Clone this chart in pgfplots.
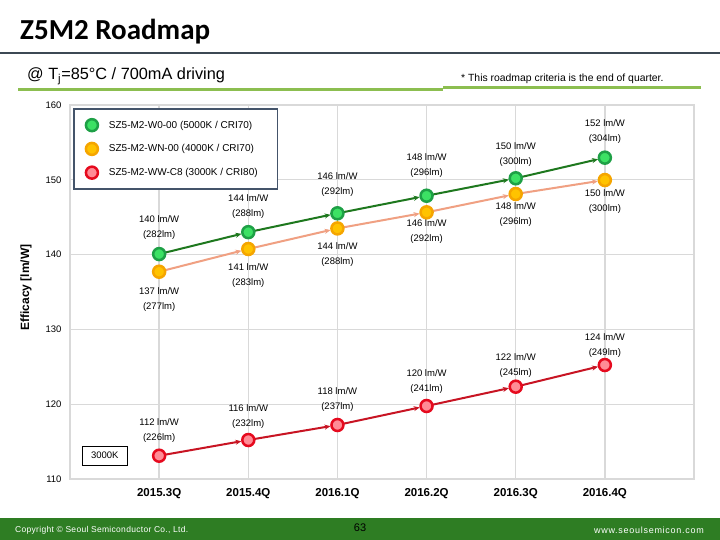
\documentclass[border=0pt]{standalone}
\usepackage{fontspec}
\setmainfont{Liberation Sans}
\newfontfamily\titlefont{Carlito}
\newfontfamily\spacedfont[LetterSpace=8]{Liberation Sans}
\newfontfamily\lspacedfont[LetterSpace=3.5]{Liberation Sans}
\usepackage{pgfplots}
\pgfplotsset{compat=1.18}
\usetikzlibrary{arrows.meta}
\definecolor{gEdge}{RGB}{30,160,70}
\definecolor{gFill}{RGB}{60,225,100}
\definecolor{oEdge}{RGB}{245,165,0}
\definecolor{oFill}{RGB}{255,195,0}
\definecolor{rEdge}{RGB}{230,10,30}
\definecolor{rFill}{RGB}{255,140,150}
\definecolor{gLine}{RGB}{30,120,30}
\definecolor{oLine}{RGB}{240,160,130}
\definecolor{rLine}{RGB}{200,20,35}
\definecolor{gridc}{RGB}{217,217,217}
\definecolor{legc}{RGB}{68,84,106}
\definecolor{footg}{RGB}{46,125,35}
\definecolor{hdrline}{RGB}{60,72,84}
\definecolor{subline}{RGB}{140,190,80}
\tikzset{lbl/.style={align=center, font=\fontsize{9.5}{15}\selectfont, inner sep=0}}
\begin{document}
\begin{tikzpicture}[x=1pt,y=1pt]
\useasboundingbox (0,0) rectangle (720,540);
\fill[white] (0,0) rectangle (720,540);
% header
\node[anchor=base west, inner sep=0] at (20,500) {\titlefont\bfseries\fontsize{29}{32}\selectfont Z5M2 Roadmap};
\draw[hdrline, line width=1.5pt] (0,487) -- (720,487);
\node[anchor=base west, inner sep=0] at (27,460) {\fontsize{16.3}{18}\selectfont @ T\textsubscript{j}=85°C / 700mA driving};
\node[anchor=base west, inner sep=0] at (461,458) {\fontsize{10.4}{12}\selectfont * This roadmap criteria is the end of quarter.};
\draw[subline, line width=3pt] (18,450.7) -- (443,450.7);
\draw[subline, line width=3pt] (443,452) -- (701,452);
% footer
\fill[footg] (0,0) rectangle (720,22);
\node[anchor=west, inner sep=0, white] at (15,10) {\lspacedfont\fontsize{8.5}{10}\selectfont Copyright © Seoul Semiconductor Co., Ltd.};
\node[inner sep=0, black] at (360,12) {\fontsize{11}{12}\selectfont 63};
\node[anchor=east, inner sep=0, white] at (704,10) {\spacedfont\fontsize{9}{10}\selectfont www.seoulsemicon.com};
% y label
\node[rotate=90, inner sep=0] at (26,252.5) {\bfseries\fontsize{12}{14}\selectfont Efficacy [lm/W]};
\begin{axis}[
  at={(70pt,61pt)}, anchor=south west,
  scale only axis, width=624pt, height=374pt,
  xmin=-1, xmax=6, ymin=110, ymax=160,
  xtick={0,1,2,3,4,5},
  xticklabels={2015.3Q,2015.4Q,2016.1Q,2016.2Q,2016.3Q,2016.4Q},
  ytick={110,120,130,140,150,160},
  grid=major,
  grid style={gridc, line width=1.3pt},
  axis line style={gridc, line width=1.3pt},
  major tick length=0pt,
  /pgf/number format/assume math mode=true,
  xticklabel style={font=\bfseries\fontsize{11.5}{13}\selectfont, yshift=-6pt},
  yticklabel style={font=\fontsize{9.5}{11}\selectfont, xshift=-5pt},
  clip=false,
  legend style={at={(0.005,0.992)}, anchor=north west, draw=legc, line width=1.6pt,
    fill=white, font=\fontsize{10}{12}\selectfont, row sep=11pt,
    inner xsep=12pt, inner ysep=10pt},
  legend cell align=left,
]
% connecting arrows
\addplot[forget plot, gLine, line width=2pt, -{Stealth[length=6pt,width=5pt]}, shorten >=7pt,
  quiver={u=\thisrow{u}, v=\thisrow{v}}] table {
x y u v
0 140.07 1 2.93
1 143.00 1 2.52
2 145.52 1 2.35
3 147.87 1 2.33
4 150.20 1 2.76
};
\addplot[forget plot, oLine, line width=2pt, -{Stealth[length=6pt,width=5pt]}, shorten >=7pt,
  quiver={u=\thisrow{u}, v=\thisrow{v}}] table {
x y u v
0 137.71 1 3.04
1 140.75 1 2.75
2 143.50 1 2.15
3 145.65 1 2.45
4 148.10 1 1.87
};
\addplot[forget plot, rLine, line width=2pt, -{Stealth[length=6pt,width=5pt]}, shorten >=7pt,
  quiver={u=\thisrow{u}, v=\thisrow{v}}] table {
x y u v
0 113.11 1 2.10
1 115.21 1 2.01
2 117.22 1 2.54
3 119.76 1 2.58
4 122.34 1 2.90
};
% markers
\addplot[only marks, mark=*, mark size=6pt, mark options={draw=gEdge, fill=gFill, line width=2.5pt}] coordinates {
(0,140.07) (1,143.00) (2,145.52) (3,147.87) (4,150.20) (5,152.96)};
\addlegendentry{\hspace*{9pt}SZ5-M2-W0-00 (5000K / CRI70)\hspace*{6pt}}
\addplot[only marks, mark=*, mark size=6pt, mark options={draw=oEdge, fill=oFill, line width=2.5pt}] coordinates {
(0,137.71) (1,140.75) (2,143.50) (3,145.65) (4,148.10) (5,149.97)};
\addlegendentry{\hspace*{9pt}SZ5-M2-WN-00 (4000K / CRI70)\hspace*{6pt}}
\addplot[only marks, mark=*, mark size=6pt, mark options={draw=rEdge, fill=rFill, line width=2.5pt}] coordinates {
(0,113.11) (1,115.21) (2,117.22) (3,119.76) (4,122.34) (5,125.24)};
\addlegendentry{\hspace*{9pt}SZ5-M2-WW-C8 (3000K / CRI80)\hspace*{6pt}}
% data labels
\node[lbl] at (axis cs:0,143.56) {140 lm/W\\(282lm)};
\node[lbl] at (axis cs:1,146.36) {144 lm/W\\(288lm)};
\node[lbl] at (axis cs:2,149.30) {146 lm/W\\(292lm)};
\node[lbl] at (axis cs:3,151.84) {148 lm/W\\(296lm)};
\node[lbl] at (axis cs:4,153.38) {150 lm/W\\(300lm)};
\node[lbl] at (axis cs:5,156.39) {152 lm/W\\(304lm)};
\node[lbl] at (axis cs:0,134.00) {137 lm/W\\(277lm)};
\node[lbl] at (axis cs:1,137.20) {141 lm/W\\(283lm)};
\node[lbl] at (axis cs:2,139.95) {144 lm/W\\(288lm)};
\node[lbl] at (axis cs:3,143.02) {146 lm/W\\(292lm)};
\node[lbl] at (axis cs:4,145.36) {148 lm/W\\(296lm)};
\node[lbl] at (axis cs:5,147.10) {150 lm/W\\(300lm)};
\node[lbl] at (axis cs:0,116.48) {112 lm/W\\(226lm)};
\node[lbl] at (axis cs:1,118.36) {116 lm/W\\(232lm)};
\node[lbl] at (axis cs:2,120.63) {118 lm/W\\(237lm)};
\node[lbl] at (axis cs:3,123.03) {120 lm/W\\(241lm)};
\node[lbl] at (axis cs:4,125.17) {122 lm/W\\(245lm)};
\node[lbl] at (axis cs:5,127.78) {124 lm/W\\(249lm)};
\node[draw=black, line width=0.8pt, minimum width=45pt, minimum height=19pt, inner sep=0,
  font=\fontsize{9.5}{11}\selectfont] at (axis cs:-0.61,113.14) {3000K};
\end{axis}
\end{tikzpicture}
\end{document}
